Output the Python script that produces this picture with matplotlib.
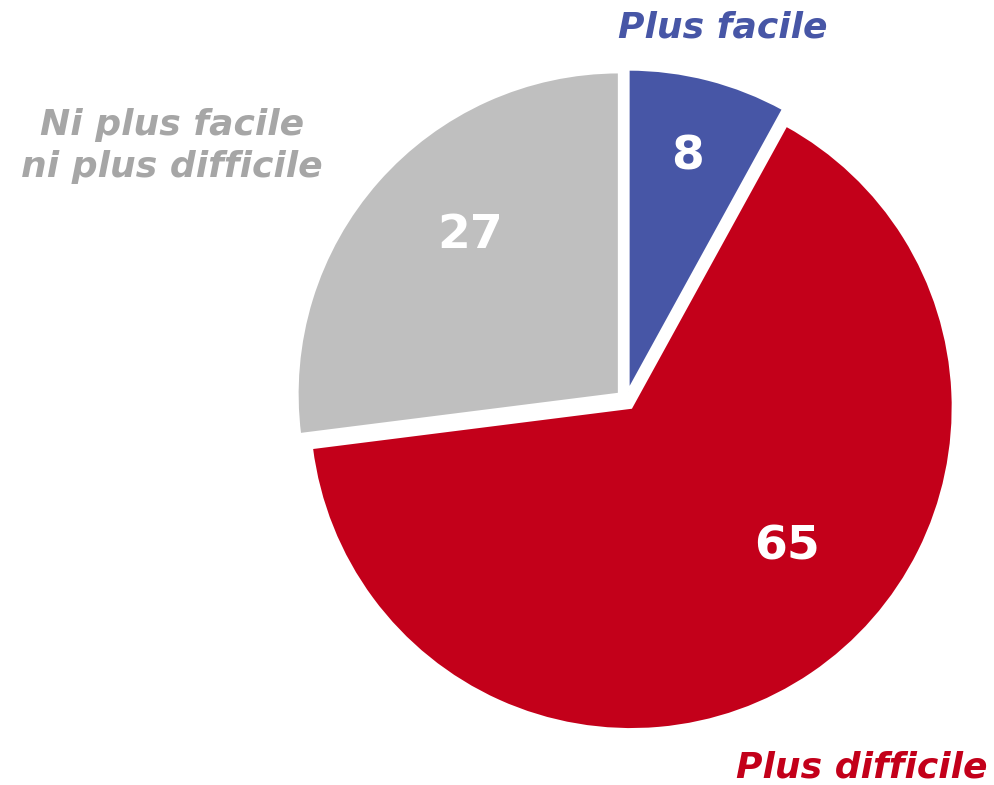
import matplotlib.pyplot as plt

# data
categories = ["Plus facile", "Plus difficile", "Ni plus facile\nni plus difficile"]
values = [8, 65, 27]
colors = ["#4756A6", "#C3001A", "#BFBFBF"]
label_colors = ["#4756A6", "#C3001A", "#A6A6A6"]

W, H = 995, 785
fig = plt.figure(figsize=(W / 100, H / 100), dpi=100)
ax = fig.add_axes([0, 0, 1, 1])

# pie drawn in pixel units (explode is absolute offset here)
cx, cy, r = 626, H - 400, 322
ax.pie(values, colors=colors, startangle=90, counterclock=False,
       center=(cx, cy), radius=r, explode=[9] * 3,
       wedgeprops=dict(edgecolor="white", linewidth=2), frame=True)
ax.set_xlim(0, W)
ax.set_ylim(0, H)
ax.set_aspect("equal")
ax.axis("off")

font = "DejaVu Sans"
# values inside slices
val_pos = [(688, 157), (787, 547), (470, 235)]
for v, (px, py) in zip(values, val_pos):
    ax.text(px, H - py, str(v), color="white", fontsize=34, fontweight="bold",
            family=font, ha="center", va="center")

# category labels
lab_pos = [(723, 27), (862, 768), (172, 146)]
for lab, c, (px, py) in zip(categories, label_colors, lab_pos):
    ax.text(px, H - py, lab, color=c, fontsize=26, fontweight="bold",
            fontstyle="italic", family=font, ha="center", va="center",
            linespacing=1.3)

fig.savefig("out.png", dpi=100)
